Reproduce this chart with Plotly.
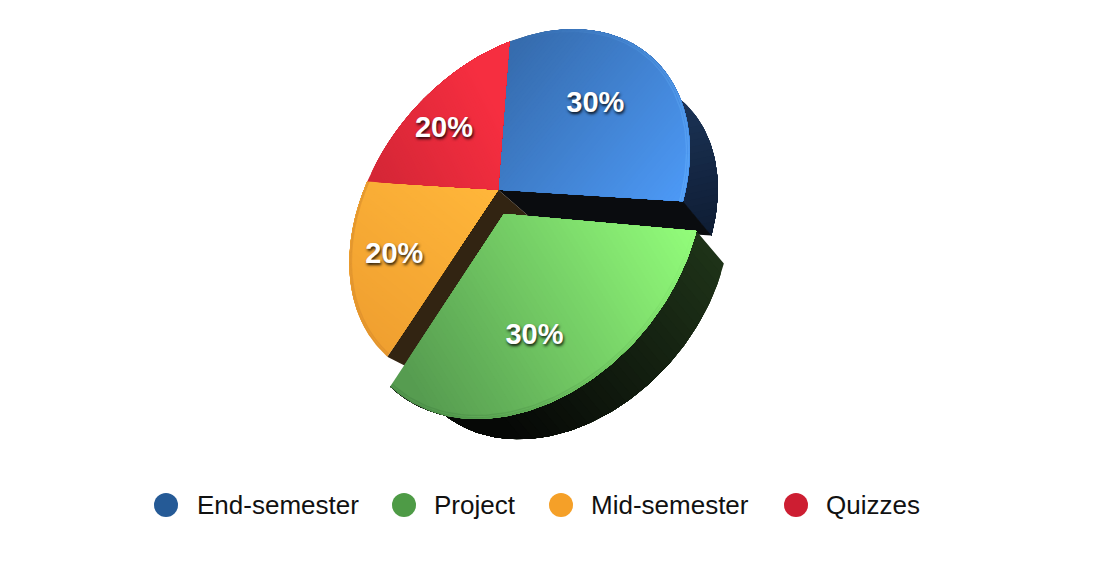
import numpy as np
import plotly.graph_objects as go

categories = ["End-semester", "Project", "Mid-semester", "Quizzes"]
values = [30, 30, 20, 20]
legend_colors = ["#255a96", "#4e9b46", "#f5a028", "#cd1e32"]
pull = [0, 1, 0, 0]

# face gradients: colour a -> colour b along the image vector p0 -> p1
grad_col = [((54, 108, 174), (76, 152, 244)), ((86, 156, 80), (146, 252, 122)),
            ((240, 160, 48), (255, 182, 58)), ((212, 38, 54), (246, 46, 64))]
grad_pts = [((510, 50), (680, 190)), ((420, 400), (690, 235)),
            ((370, 340), (490, 190)), ((375, 185), (500, 120))]
# rim colour, alpha at arc start, alpha at arc end
rim = [((110, 185, 255), 0.0, 0.38), ((60, 120, 60), 0.0, 0.34),
       ((190, 120, 40), 0.28, 0.28), ((190, 40, 60), 0.0, 0.0)]
label_nudge = [(8, 0), (2, 15), (-9, 11), (-6, 1)]
legend_x = [166, 404, 561, 796]
legend_text_x = [197, 434, 591, 826]
legend_y = 505

# perspective of the pie plane: model circle -> image
src = [(0, 0)]
dst = [(497, 188)]
for th, p in [(0, (510, 42)), (108, (683, 202)), (216, (388, 357)), (288, (367, 182))]:
    r = np.radians(th)
    src.append((np.sin(r), np.cos(r)))
    dst.append(p)
A = []
for (x, y), (u, v) in zip(src, dst):
    A.append([x, y, 1, 0, 0, 0, -u * x, -u * y, -u])
    A.append([0, 0, 0, x, y, 1, -v * x, -v * y, -v])
H = np.linalg.svd(np.array(A, float))[2][-1].reshape(3, 3)
Hinv = np.linalg.inv(H)


def proj(m):
    m = np.atleast_2d(m)
    q = np.c_[m, np.ones(len(m))] @ H.T
    return q[:, :2] / q[:, 2:]


def unproj(p):
    q = Hinv @ np.array([p[0], p[1], 1.0])
    return q[:2] / q[2]


VP = np.array([1120.0, 730.0])
DEPTH = 0.065
PULL_APEX = unproj((504, 214))


def extrude(p):
    return p + DEPTH * (VP - p)


def clip(poly, p0, g, t):
    out = []
    d = (poly - p0) @ g - t
    n = len(poly)
    for i in range(n):
        j = (i + 1) % n
        if d[i] >= 0:
            out.append(poly[i])
        if d[i] * d[j] < 0:
            out.append(poly[i] + (poly[j] - poly[i]) * d[i] / (d[i] - d[j]))
    return np.array(out) if len(out) > 2 else None


fig = go.Figure()


def solid(poly, color):
    fig.add_trace(go.Scatter(x=np.r_[poly[:, 0], poly[0, 0]], y=np.r_[poly[:, 1], poly[0, 1]],
                             mode="lines", line=dict(width=0), fill="toself", fillcolor=color,
                             hoverinfo="skip", showlegend=False))


def graded(poly, ca, cb, p0, p1, n=64):
    p0, p1 = np.array(p0, float), np.array(p1, float)
    g = p1 - p0
    g = g / np.linalg.norm(g)
    L = np.linalg.norm(p1 - p0)
    for k in range(n):
        f = k / (n - 1)
        t = -1e5 if k == 0 else L * f
        c = clip(poly, p0, g, t)
        if c is None:
            continue
        col = [round(ca[i] + (cb[i] - ca[i]) * f) for i in range(3)]
        solid(c, f"rgb({col[0]},{col[1]},{col[2]})")


def arc(i, r=1.0, offset=(0, 0), span=(0.0, 1.0), n=90):
    a0 = sum(values[:i]) / sum(values) * 2 * np.pi
    a1 = sum(values[:i + 1]) / sum(values) * 2 * np.pi
    t = np.linspace(a0 + (a1 - a0) * span[0], a0 + (a1 - a0) * span[1], n)
    return np.c_[r * np.sin(t), r * np.cos(t)] + np.array(offset)


offsets = [PULL_APEX if pull[i] else np.zeros(2) for i in range(4)]

# blue side, cut faces
blue_arc = proj(arc(0))
graded(np.r_[blue_arc, extrude(blue_arc)[::-1]], (28, 52, 88), (14, 28, 50), (680, 90), (712, 235), 24)
c0 = proj([[0, 0]])[0]
e0 = blue_arc[-1]
solid(np.array([c0, e0, extrude(e0), extrude(c0)]), "rgb(10,12,15)")
o0 = proj(arc(2))[0]
solid(np.array([c0, o0, extrude(o0), extrude(c0)]), "rgb(50,36,18)")

# tops of the three unpulled slices
for i in (0, 2, 3):
    top = np.r_[proj([[0, 0]]), proj(arc(i))]
    graded(top, *grad_col[i], *grad_pts[i])

# pulled slice side and top
green_arc = proj(arc(1, offset=offsets[1]))
graded(np.r_[green_arc, extrude(green_arc)[::-1]], (30, 50, 24), (6, 8, 6), (725, 265), (520, 436), 32)
graded(np.r_[proj([offsets[1]]), green_arc], *grad_col[1], *grad_pts[1])

# soft rim on the arcs, fading along each arc
SEGMENTS = 16
for i in range(4):
    col, a_start, a_end = rim[i]
    for s in range(SEGMENTS):
        f = (s + 0.5) / SEGMENTS
        alpha = a_start + (a_end - a_start) * f
        if alpha <= 0:
            continue
        for r, w in ((0.995, 1.6), (0.985, 1.4)):
            p = proj(arc(i, r, offsets[i], (s / SEGMENTS, (s + 1) / SEGMENTS), 12))
            fig.add_trace(go.Scatter(x=p[:, 0], y=p[:, 1], mode="lines",
                                     line=dict(color=f"rgba({col[0]},{col[1]},{col[2]},{alpha:.3f})", width=w),
                                     hoverinfo="skip", showlegend=False))

# value labels
lab = []
for i in range(4):
    a = (sum(values[:i]) + values[i] / 2) / sum(values) * 2 * np.pi
    lab.append(proj([np.array([np.sin(a), np.cos(a)]) * 0.62 + offsets[i]])[0] + np.array(label_nudge[i]))
lab = np.array(lab)
fig.add_trace(go.Scatter(x=lab[:, 0], y=lab[:, 1], mode="text", text=[f"{v}%" for v in values],
                         textposition="middle center", hoverinfo="skip", showlegend=False,
                         textfont=dict(family="Liberation Sans", size=29, color="white", weight="bold",
                                       shadow="1px 2px 3px rgba(0,0,0,0.85)")))

# legend drawn at full marker size
for name, col, mx, tx in zip(categories, legend_colors, legend_x, legend_text_x):
    fig.add_trace(go.Scatter(x=[mx], y=[legend_y], mode="markers", name=name, hoverinfo="skip",
                             marker=dict(color=col, size=24, line=dict(width=0)), showlegend=False))
    fig.add_annotation(x=tx, y=legend_y, text=name, showarrow=False, xanchor="left", yanchor="middle",
                       xshift=-2, font=dict(family="Liberation Sans", size=26, color="#111111"))

# the page body has an 8px margin, so the figure fills what is left of the window
fig.update_layout(
    width=1101, height=558, margin=dict(l=0, r=0, t=0, b=0), showlegend=False,
    paper_bgcolor="white", plot_bgcolor="white",
    xaxis=dict(range=[8, 1109], visible=False, fixedrange=True),
    yaxis=dict(range=[566, 8], visible=False, fixedrange=True),
)
fig.write_html("out.html")
